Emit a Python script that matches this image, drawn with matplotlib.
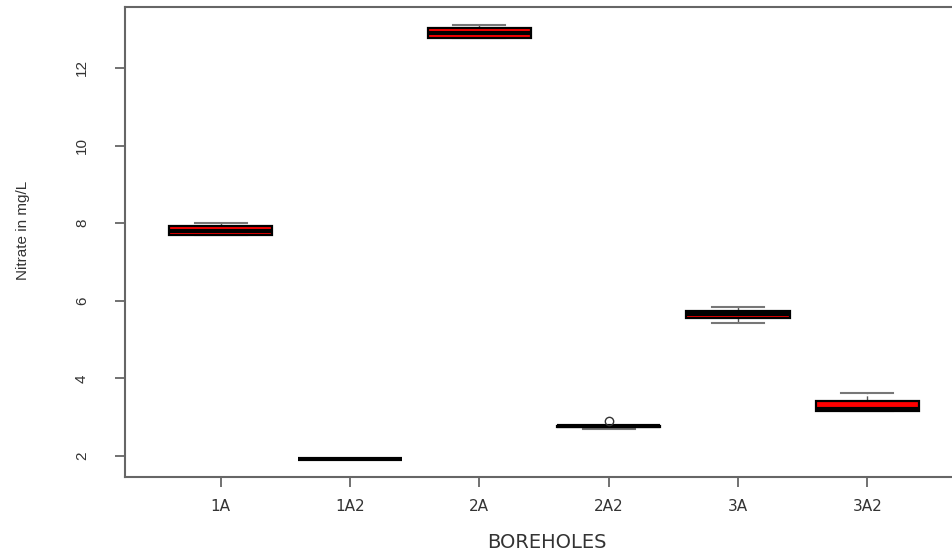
import matplotlib
matplotlib.use('Agg')
import matplotlib.pyplot as plt

plt.rcParams['font.family'] = ['Liberation Sans', 'DejaVu Sans']

# Nitrate summary per borehole (mg/L)
boreholes = ['1A', '1A2', '2A', '2A2', '3A', '3A2']
whisker_low = [7.70, 1.93, 12.77, 2.70, 5.43, 3.16]
q1 = [7.70, 1.93, 12.77, 2.75, 5.56, 3.16]
median = [7.80, 1.93, 12.90, 2.77, 5.66, 3.21]
q3 = [7.93, 1.93, 13.03, 2.78, 5.74, 3.42]
whisker_high = [8.00, 1.93, 13.11, 2.78, 5.84, 3.62]
outliers = [[], [], [], [2.90], [], []]

stats = []
for i, name in enumerate(boreholes):
    stats.append({'label': name, 'whislo': whisker_low[i], 'q1': q1[i],
                  'med': median[i], 'q3': q3[i], 'whishi': whisker_high[i],
                  'fliers': outliers[i]})

fig = plt.figure(figsize=(9.53, 5.57), dpi=100)
ax = fig.add_axes([125 / 953, 1 - 477 / 557, (963 - 125) / 953, 470 / 557])

# caps/whiskers sit behind the boxes so collapsed whiskers stay hidden
ax.bxp(stats, positions=range(1, 7), widths=0.8, patch_artist=True,
       boxprops=dict(facecolor='red', edgecolor='black', linewidth=1.6, zorder=3),
       medianprops=dict(color='black', linewidth=3, zorder=4),
       whiskerprops=dict(color='#555555', linewidth=1, linestyle='--', zorder=1),
       capprops=dict(color='#777777', linewidth=1.5, zorder=1),
       flierprops=dict(marker='o', markersize=6, markerfacecolor='none',
                       markeredgecolor='#333333', zorder=5))

ax.set_xlim(0.26, 6.74)
ax.set_ylim(1.46, 13.57)
ax.set_yticks([2, 4, 6, 8, 10, 12])
ax.set_xticks(range(1, 7))
ax.set_xticklabels(boreholes, family='DejaVu Sans', fontsize=13)

for sp in ax.spines.values():
    sp.set_color('#666666')
    sp.set_linewidth(1.5)

ax.tick_params(axis='both', direction='out', length=7, width=1.3,
               color='#666666', labelcolor='#333333', labelsize=11)
ax.tick_params(axis='x', pad=9)
ax.tick_params(axis='y', pad=19)
for lab in ax.get_yticklabels():
    lab.set_rotation(90)
    lab.set_va('center')

fig.text(23 / 953, 1 - 230 / 557, 'Nitrate in mg/L', rotation=90,
         ha='center', va='center', fontsize=11, color='#333333')
fig.text(547 / 953, 1 - 543 / 557, 'BOREHOLES', ha='center', va='center',
         fontsize=14, family='DejaVu Sans', color='#333333')

fig.savefig('out.png', dpi=100)
